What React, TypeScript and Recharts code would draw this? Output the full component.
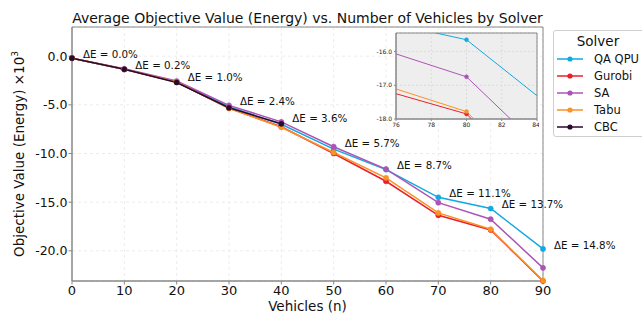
import { LineChart, Line, XAxis, YAxis, CartesianGrid, ReferenceArea, LabelList } from "recharts";

const vehicles = [0, 10, 20, 30, 40, 50, 60, 70, 80, 90];
const qaQpu = [-0.2, -1.35, -2.65, -5.2, -7.0, -9.55, -11.65, -14.5, -15.65, -19.8];
const gurobi = [-0.2, -1.35, -2.65, -5.35, -7.25, -10.0, -12.85, -16.35, -17.85, -23.1];
const sa = [-0.2, -1.3, -2.55, -5.05, -6.75, -9.3, -11.6, -15.05, -16.75, -21.75];
const tabu = [-0.2, -1.35, -2.65, -5.35, -7.3, -9.9, -12.5, -16.1, -17.78, -23.05];
const cbc = [-0.2, -1.35, -2.7, -5.3, -6.95, null, null, null, null, null];
const deltaE = ["0.0%", "0.2%", "1.0%", "2.4%", "3.6%", "5.7%", "8.7%", "11.1%", "13.7%", "14.8%"];

const xTicks = [0, 10, 20, 30, 40, 50, 60, 70, 80, 90];
const yTicks = [0, -5, -10, -15, -20];
const insetXTicks = [76, 78, 80, 82, 84];
const insetYTicks = [-16, -17, -18];

const FONT = "'DejaVu Sans', sans-serif";

const series = [
  { key: "qa", name: "QA QPU", color: "#12a9e0", values: qaQpu },
  { key: "gurobi", name: "Gurobi", color: "#e8202a", values: gurobi },
  { key: "sa", name: "SA", color: "#ac54b4", values: sa },
  { key: "tabu", name: "Tabu", color: "#fa9226", values: tabu },
  { key: "cbc", name: "CBC", color: "#2a0a2c", values: cbc },
];

const data = vehicles.map((n, i) => {
  const row: Record<string, any> = { n, dE: deltaE[i] };
  series.forEach((s) => (row[s.key] = s.values[i]));
  row.top = Math.max(...series.map((s) => s.values[i]).filter((v) => v !== null) as number[]);
  return row;
});

function DeltaLabel(props: any) {
  const { x, y, value } = props;
  return (
    <text x={x + 11} y={y - 3} fontSize={10.3} fill="#111" dominantBaseline="middle" fontFamily={FONT}>
      ΔE = {value}
    </text>
  );
}

function YLabel(props: any) {
  const vb = props.viewBox || { y: 27, height: 254 };
  const cy = vb.y + vb.height / 2;
  return (
    <text x={20} y={cy} transform={`rotate(-90, 20, ${cy})`} textAnchor="middle" dominantBaseline="middle" fontSize={13.5} fill="#111" fontFamily={FONT}>
      Objective Value (Energy) ×10<tspan dy={-5} fontSize={9}>3</tspan>
    </text>
  );
}

export default function App() {
  return (
    <div style={{ position: "absolute", left: 0, top: 0, width: 642, height: 314, fontFamily: FONT, background: "#fff" }}>
      <div style={{ position: "absolute", left: 72, width: 471, top: 9, textAlign: "center", fontSize: 14, lineHeight: "18px", color: "#111", whiteSpace: "nowrap" }}>
        Average Objective Value (Energy) vs. Number of Vehicles by Solver
      </div>
      <LineChart width={642} height={314} data={data} margin={{ top: 27, right: 99, bottom: 0, left: 0 }}>
        <CartesianGrid strokeDasharray="3 3" stroke="#ececec" />
        <XAxis
          dataKey="n"
          type="number"
          domain={[0, 90]}
          ticks={xTicks}
          height={33}
          stroke="#888"
          tickSize={3.5}
          tickMargin={1}
          tick={{ fontSize: 13, fill: "#111" }}
          label={{ value: "Vehicles (n)", position: "insideBottom", offset: 3, fontSize: 13.5, fill: "#111" }}
        />
        <YAxis
          type="number"
          domain={[-23.1, 3]}
          ticks={yTicks}
          width={72}
          stroke="#888"
          tickSize={3.5}
          tickMargin={1}
          tickFormatter={(v: number) => v.toFixed(1)}
          tick={{ fontSize: 12.5, fill: "#111" }}
          label={<YLabel />}
        />
        <ReferenceArea x1={0} x2={90} y1={-23.1} y2={3} fill="none" stroke="#888" strokeWidth={1} />
        {series.map((s) => (
          <Line
            key={s.key}
            type="linear"
            dataKey={s.key}
            stroke={s.color}
            strokeWidth={1.5}
            dot={{ r: 2.6, fill: s.color, stroke: s.color, strokeWidth: 0.5 }}
            activeDot={false}
            isAnimationActive={false}
          />
        ))}
        <Line dataKey="top" stroke="none" dot={false} activeDot={false} isAnimationActive={false}>
          <LabelList dataKey="dE" content={<DeltaLabel />} />
        </Line>
      </LineChart>

      <div style={{ position: "absolute", left: 366, top: 32 }}>
        <LineChart width={173} height={102} data={data} margin={{ top: 1, right: 2, bottom: 0, left: 0 }}>
          <CartesianGrid strokeDasharray="2 2" stroke="#dcdcdc" fill="#efeeee" />
          <XAxis
            dataKey="n"
            type="number"
            domain={[76, 84]}
            allowDataOverflow
            ticks={insetXTicks}
            height={15}
            stroke="#888"
            tickSize={2}
            tickMargin={2}
            tick={{ fontSize: 6, fill: "#222" }}
          />
          <YAxis
            type="number"
            domain={[-18, -15.45]}
            allowDataOverflow
            ticks={insetYTicks}
            width={30}
            stroke="#888"
            tickSize={2}
            tickMargin={2}
            tickFormatter={(v: number) => v.toFixed(1)}
            tick={{ fontSize: 6, fill: "#222" }}
          />
          <ReferenceArea x1={76} x2={84} y1={-18} y2={-15.45} fill="none" stroke="#888" strokeWidth={1} />
          {series.slice(0, 4).map((s) => (
            <Line
              key={s.key}
              type="linear"
              dataKey={s.key}
              stroke={s.color}
              strokeWidth={1}
              dot={{ r: 2, fill: s.color, stroke: s.color, strokeWidth: 0.5 }}
              activeDot={false}
              isAnimationActive={false}
            />
          ))}
        </LineChart>
      </div>

      <div style={{ position: "absolute", left: 553, top: 30, width: 92, height: 107, border: "1px solid #cfcfcf", borderRadius: 3, background: "#fff", boxSizing: "border-box" }}>
        <div style={{ position: "absolute", left: 0, width: 88, top: 2, textAlign: "center", fontSize: 13.5, color: "#111" }}>Solver</div>
        {series.map((s, i) => (
          <div key={s.key} style={{ position: "absolute", left: 3, top: 21 + i * 17, height: 14, display: "flex", alignItems: "center" }}>
            <svg width={26} height={10} style={{ display: "block" }}>
              <line x1={0} y1={5} x2={26} y2={5} stroke={s.color} strokeWidth={1.5} />
              <circle cx={13} cy={5} r={2.6} fill={s.color} />
            </svg>
            <span style={{ marginLeft: 11, fontSize: 11.5, color: "#111", whiteSpace: "nowrap" }}>{s.name}</span>
          </div>
        ))}
      </div>
    </div>
  );
}
